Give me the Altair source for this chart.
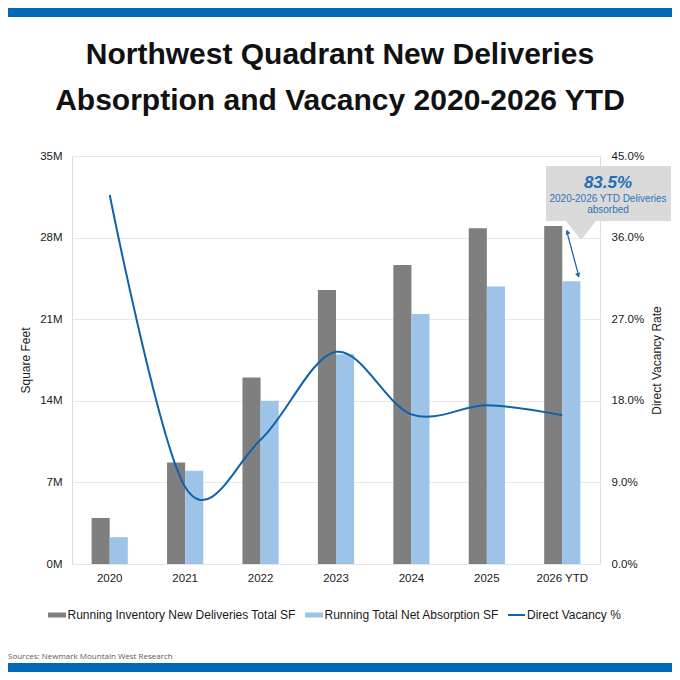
import altair as alt
import pandas as pd

# ---------------- data ----------------
categories = ["2020", "2021", "2022", "2023", "2024", "2025", "2026 YTD"]
deliveries = [3.95, 8.7, 16.0, 23.5, 25.65, 28.8, 29.0]        # millions SF
absorption = [2.3, 8.0, 14.0, 18.0, 21.45, 23.8, 24.25]        # millions SF
vacancy = [40.7, 8.5, 13.7, 23.4, 16.5, 17.5, 16.4]            # percent
series_names = ["Running Inventory New Deliveries Total SF", "Running Total Net Absorption SF"]
line_name = "Direct Vacancy %"
left_ticks = [0, 7, 14, 21, 28, 35]
right_ticks = [0, 9, 18, 27, 36, 45]
callout_value = "83.5%"
callout_text = ["2020-2026 YTD Deliveries", "absorbed"]
title_lines = ["Northwest Quadrant New Deliveries", "Absorption and Vacancy 2020-2026 YTD"]
source_text = "Sources: Newmark Mountain West Research"

FONT = "Liberation Sans"
GRAY = "#7F7F7F"
LBLUE = "#9DC3E6"
LINE = "#0F62AB"
BAND = "#0069B4"
TXT = "#1a1a1a"

bars_df = pd.DataFrame({
    "cat": categories * 2,
    "series": [series_names[0]] * len(categories) + [series_names[1]] * len(categories),
    "value": deliveries + absorption,
})
line_df = pd.DataFrame({"cat": categories, "vac": vacancy})
arrow_df = pd.DataFrame({"cat": [categories[-1]], "top": [deliveries[-1]], "bottom": [absorption[-1]]})
one = pd.DataFrame({"k": [0]})

xscale = alt.Scale(domain=categories, paddingInner=0.52, paddingOuter=0.26)
xaxis = alt.Axis(title=None, labelFontSize=11.5, labelColor=TXT, ticks=False, domain=False,
                 labelPadding=8, labelAngle=0, labelFont=FONT)
X = alt.X("cat:N", scale=xscale, axis=xaxis, sort=categories)

left_axis = alt.Axis(title="Square Feet", values=left_ticks, labelExpr="datum.value + 'M'",
                     grid=True, gridColor="#E8E8E8", ticks=False, domain=False,
                     labelFontSize=11.5, labelColor=TXT, labelPadding=10,
                     titleFontSize=12, titleFontWeight="normal", titleColor=TXT, titlePadding=7,
                     labelFont=FONT, titleFont=FONT)
yscale_left = alt.Scale(domain=[0, 35], nice=False)

bars = alt.Chart(bars_df).mark_bar().encode(
    x=X,
    xOffset=alt.XOffset("series:N", sort=series_names, scale=alt.Scale(paddingInner=0, paddingOuter=0)),
    y=alt.Y("value:Q", scale=yscale_left, axis=left_axis),
    color=alt.Color("series:N", scale=alt.Scale(domain=series_names, range=[GRAY, LBLUE]), legend=None),
)

ARROW = "#2A62A8"
arrow_rule = alt.Chart(arrow_df).mark_rule(color=ARROW, strokeWidth=1.3, xOffset=4.4, x2Offset=16.7,
                                           yOffset=5, y2Offset=-4.5).encode(
    x=X, x2="cat:N",
    y=alt.Y("top:Q", scale=yscale_left, axis=left_axis), y2="bottom:Q",
)
head_top = alt.Chart(arrow_df).mark_point(shape="triangle-up", angle=345.5, size=28, filled=True, opacity=1,
                                          color=ARROW, xOffset=5.2, yOffset=6).encode(
    x=X, y=alt.Y("top:Q", scale=yscale_left, axis=left_axis))
head_bot = alt.Chart(arrow_df).mark_point(shape="triangle-up", angle=165.5, size=28, filled=True, opacity=1,
                                          color=ARROW, xOffset=15.9, yOffset=-6).encode(
    x=X, y=alt.Y("bottom:Q", scale=yscale_left, axis=left_axis))

inner = alt.layer(bars, arrow_rule, head_top, head_bot)

right_axis = alt.Axis(title="Direct Vacancy Rate", orient="right", values=right_ticks,
                      labelExpr="format(datum.value, '.1f') + '%'", grid=False, ticks=False, domain=False,
                      labelFontSize=11.5, labelColor=TXT, labelPadding=11,
                      titleFontSize=12, titleFontWeight="normal", titleColor=TXT, titlePadding=20,
                      titleAngle=270, labelFont=FONT, titleFont=FONT)
line = alt.Chart(line_df).mark_line(color=LINE, strokeWidth=2, interpolate="cardinal", tension=0).encode(
    x=X, y=alt.Y("vac:Q", scale=alt.Scale(domain=[0, 45], nice=False), axis=right_axis))

# ---------------- annotations (pixel positions relative to plot area) ----------------
def rect(x1, x2, y1, y2, color):
    return alt.Chart(one).mark_rect(color=color).encode(
        x=alt.value(x1), x2=alt.value(x2), y=alt.value(y1), y2=alt.value(y2))

def text(t, x, y, size, color=TXT, weight="normal", style="normal", align="center", font=FONT, baseline="middle"):
    return alt.Chart(one).mark_text(text=t, fontSize=size, color=color, fontWeight=weight, fontStyle=style,
                                    align=align, baseline=baseline, font=font).encode(
        x=alt.value(x), y=alt.value(y))

top_band = rect(-64, 600, -148, -139, BAND)
bot_band = rect(-64, 600, 507, 516, BAND)
t1 = text(title_lines[0], 268, -92, 30, color="#111111", weight="bold", baseline="alphabetic")
t2 = text(title_lines[1], 268, -46, 30, color="#111111", weight="bold", baseline="alphabetic")
src = text(source_text, -64, 501, 8, color="#595959", align="left", font="Open Sans")

# legend
lg1 = rect(-24, -6, 456.5, 461.5, GRAY)
lt1 = text(series_names[0], -4.5, 459, 12, align="left")
lg2 = rect(233, 251, 456.5, 461.5, LBLUE)
lt2 = text(series_names[1], 252.5, 459, 12, align="left")
lg3 = alt.Chart(one).mark_rule(color=LINE, strokeWidth=2).encode(
    x=alt.value(436), x2=alt.value(453), y=alt.value(459))
lt3 = text(line_name, 455, 459, 12, align="left")

# callout
BOX = "#DADADA"
box = rect(474, 599, 10, 65, BOX)
tri = alt.Chart(one).mark_point(shape="M-1,-0.625L1,-0.625L0,0.625Z", size=1024, filled=True, opacity=1,
                                color=BOX, strokeWidth=0).encode(x=alt.value(509), y=alt.value(74))
c1 = text(callout_value, 536, 27, 17, color="#1F6DB5", weight="bold", style="italic")
c2 = text(callout_text[0], 536, 42.5, 10, color="#2E75B6")
c3 = text(callout_text[1], 536, 53.5, 10, color="#2E75B6")

chart = alt.layer(
    inner, line,
    top_band, bot_band, t1, t2, src,
    lg1, lt1, lg2, lt2, lg3, lt3,
    box, tri, c1, c2, c3,
).resolve_scale(y="independent").properties(
    width=528, height=408,
    autosize=alt.AutoSizeParams(type="none"),
    padding={"left": 64, "top": 148, "right": 72, "bottom": 108},
).configure_view(stroke=None).configure(font=FONT, background="white")

chart.save("out.html", embed_options={"renderer": "svg", "actions": False})
